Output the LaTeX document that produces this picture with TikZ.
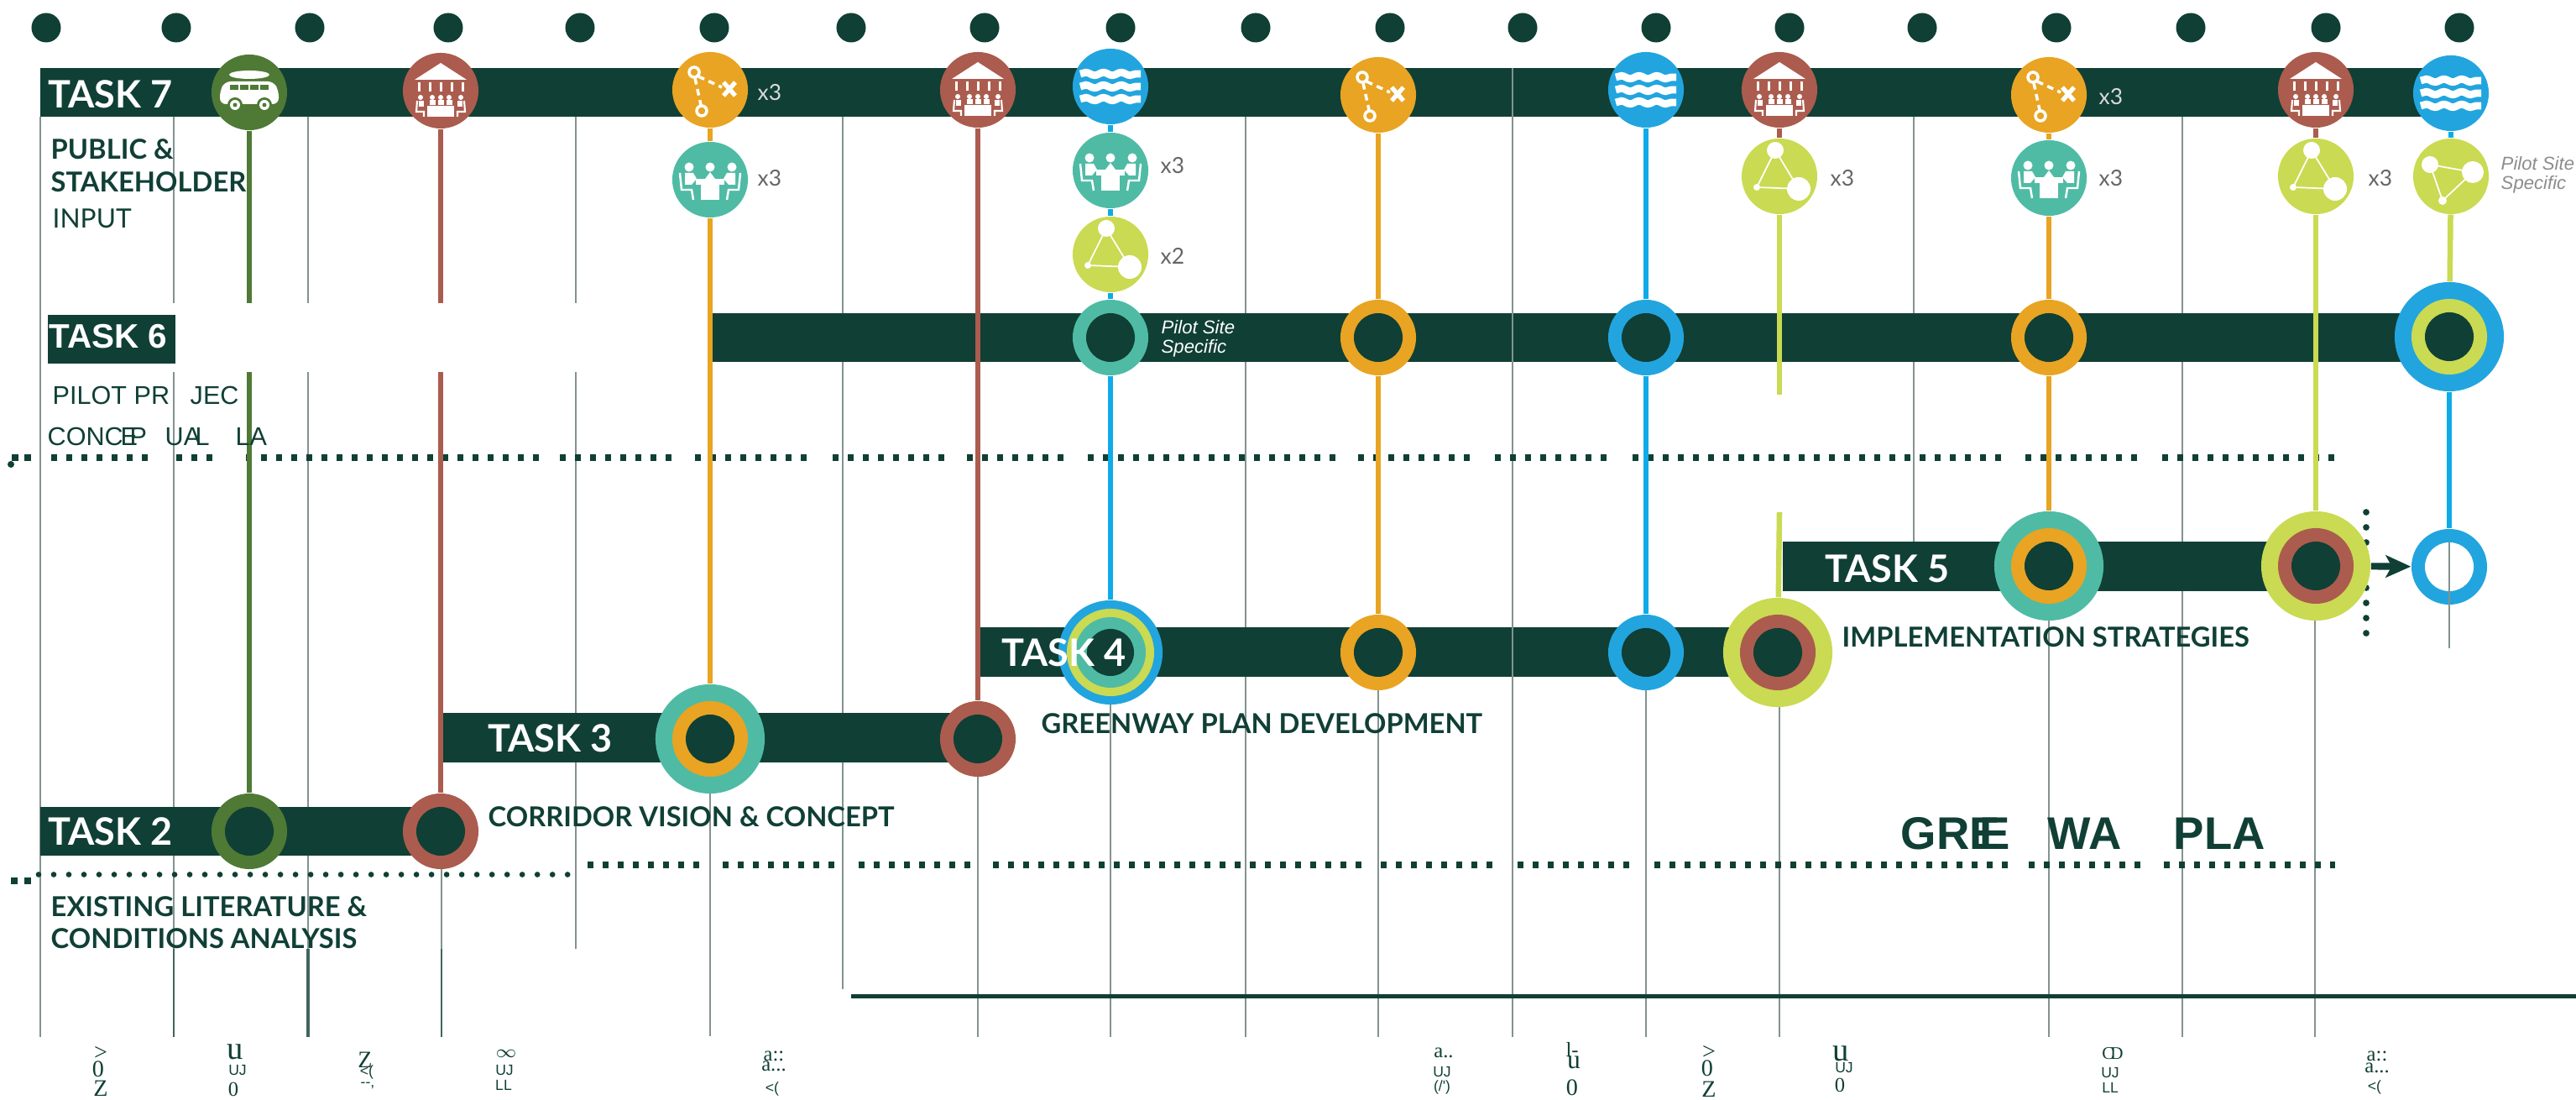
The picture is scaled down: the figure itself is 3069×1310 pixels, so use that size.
\documentclass[tikz,border=0pt]{standalone}
\usepackage{fontspec}
\usetikzlibrary{arrows.meta,decorations.pathmorphing}
\setmainfont{Lato}
\newfontfamily\arialfont{Liberation Sans}
\newfontfamily\timesfont{Liberation Serif}
\definecolor{dark}{HTML}{103F35}
\definecolor{trailgreen}{HTML}{4F7A35}
\definecolor{brick}{HTML}{AB5C4E}
\definecolor{amber}{HTML}{E8A422}
\definecolor{teal}{HTML}{4FBBA5}
\definecolor{sky}{HTML}{22A5DF}
\definecolor{skyline}{HTML}{0FABE8}
\definecolor{lime}{HTML}{CADA52}
\definecolor{gridgrey}{HTML}{83938F}
\tikzset{
  disc/.style={circle,inner sep=0pt,draw=none,fill=#1},
  rad/.style={minimum size=#1*0.02cm},
  stem/.style={draw=#1,line width=1.85pt},
  gridline/.style={draw=gridgrey,line width=0.45pt},
  bar/.style={fill=dark},
  squaredash/.style={draw=dark,line width=2pt,dash pattern=on 2pt off 3.12pt},
  dotline/.style={draw=dark,line width=#1,line cap=round,dash pattern=on 0pt off 5.12pt},
  tasklabel/.style={anchor=west,inner sep=0pt,text=white,font=\bfseries\fontsize{12.8}{15}\selectfont},
  heading/.style={anchor=west,inner sep=0pt,text=dark,font=\bfseries\fontsize{9.3}{11}\selectfont},
  plain/.style={anchor=west,inner sep=0pt,text=dark,font=\arialfont\fontsize{8.7}{10}\selectfont},
  bigplain/.style={anchor=west,inner sep=0pt,text=dark,font=\arialfont\bfseries\fontsize{15.5}{17}\selectfont},
  countlabel/.style={anchor=west,inner sep=0pt,text=#1,font=\fontsize{7.5}{9}\selectfont},
  sitenote/.style={anchor=west,inner sep=0pt,font=\arialfont\itshape\fontsize{6.3}{7}\selectfont},
  big glyph/.style={inner sep=0pt,text=dark,font=\timesfont\fontsize{#1}{#1}\selectfont},
  small glyph/.style={inner sep=0pt,text=dark,font=\arialfont\fontsize{5}{6}\selectfont},
  % icons, drawn round (0,0) in pixels
  vanicon/.pic={
    \fill[white] (0,-21) ellipse (24 and 5);
    \fill[white,rounded corners=2pt] (-35,14) -- (-35,-2) -- (-29,-13) -- (29,-13) -- (35,-2) -- (35,14) -- cycle;
    \foreach \x in {-18,-6,6,18} { \fill[trailgreen] (\x-5,-9) rectangle (\x+5,-3); }
    \foreach \x in {-17,18} {
      \fill[trailgreen] (\x,15) circle (9);
      \fill[white] (\x,15) circle (6);
      \fill[trailgreen] (\x,15) circle (2.5);
    }
  },
  hallicon/.pic={
    \fill[white] (0,-33) -- (31,-13) -- (-31,-13) -- cycle;
    \foreach \x in {-26,-13,0,13,26} { \fill[white] (\x-1.5,-10) rectangle (\x+1.5,1); }
    \foreach \x in {-10,0,10} {
      \fill[white] (\x,8) circle (3);
      \fill[white] (\x-3.5,11) rectangle (\x+3.5,17);
    }
    \fill[white] (-16,18) rectangle (16,31);
    \foreach \s in {-1,1} {
      \fill[white] (\s*24,8) circle (3);
      \draw[white,line width=0.6pt] (\s*28,12) -- (\s*29,25) -- (\s*20,25) -- (\s*20,31);
      \fill[white] (\s*26,12) rectangle (\s*20,19);
    }
  },
  waveicon/.pic={
    \foreach \y in {-15,0,15} {
      \draw[white,line width=2.5pt,decorate,decoration={snake,amplitude=0.5pt,segment length=6pt}] (-36,\y) -- (36,\y);
    }
  },
  routeicon/.pic={
    \draw[white,line width=1pt] (-19,-21) circle (6);
    \draw[white,line width=1pt] (-10,25) circle (6);
    \draw[white,line width=1pt,dash pattern=on 2.2pt off 1.6pt] (-14,-16) -- (14,-3);
    \draw[white,line width=1pt,dash pattern=on 2.2pt off 1.6pt] (-18,-14) -- (-11,18);
    \draw[white,line width=1.5pt] (16,-9) -- (30,7) (16,7) -- (30,-9);
  },
  meeticon/.pic={
    \foreach \x in {-25,0,26} { \fill[white] (\x,-15) circle (5.5); }
    \fill[white] (-6,-1) -- (0,-9) -- (6,-1) -- cycle;
    \fill[white] (-17,-1) rectangle (17,6);
    \fill[white] (-11,6) rectangle (11,24);
    \foreach \s in {-1,1} {
      \fill[white] (\s*30,-8) -- (\s*20,-8) -- (\s*16,-1) -- (\s*22,6) -- (\s*30,6) -- cycle;
      \draw[white,line width=0.7pt] (\s*36,-8) -- (\s*34,12) -- (\s*22,12) -- (\s*20,24);
    }
  },
  webicon/.pic={
    \draw[white,line width=0.5pt] (-5,-31) -- (23,15) -- (-27,13) -- cycle;
    \fill[white] (-5,-31) circle (10);
    \fill[white] (23,15) circle (14);
    \fill[white] (-27,13) circle (4);
  },
  webaltmark/.pic={
    \draw[white,line width=0.5pt] (-25,-14) -- (26,-5) -- (-10,29) -- cycle;
    \fill[white] (-25,-14) circle (10);
    \fill[white] (26,-5) circle (13);
    \fill[white] (-10,29) circle (5);
  }
}
\begin{document}
\begin{tikzpicture}[x=0.01cm,y=-0.01cm]
  \useasboundingbox (0,0) rectangle (3069,1310);
  % grid lines
  \foreach \x/\a/\b in {48/139/1235,207/139/1235,367/139/1235,526/990/1235,686/139/1130,846/880/1234,
      1004/139/1178,1165/880/1235,1323/777/1235,1484/139/1235,1642/777/1235,1961/777/1235,
      2120/777/1235,2280/139/645,2441/674/1235,2600/139/1235,2758/674/1235} {
    \draw[gridline] (\x,\a) -- (\x,\b);
  }
  \foreach \x/\w in {207/0.8pt,367/1.1pt,526/0.6pt} { \draw[draw=dark!80,line width=\w] (\x,1130) -- (\x,1235); }
  % task bars
  \foreach \xa/\ya/\xb/\yb in {48/81/2910/139,847/373/2918/431,48/961/526/1019,527/849/1165/908,1168/747/2118/806,2124/645/2759/704} {
    \fill[bar] (\xa,\ya) rectangle (\xb,\yb);
  }
  \draw[gridline] (1802,81) -- (1802,1235);
  % dotted rows
  \foreach \xa/\xb in {61/183,210/264,293/644,667/808,828/970,992/1133,1152/1271,1296/1593,1618/1757,1781/1918,1945/2385,2413/2548,2576/2781} {
    \draw[squaredash] (\xa,545) -- (\xb,545);
  }
  \foreach \xa/\xb in {700/839,861/1001,1023/1162,1183/1627,1645/1789,1808/1947,1971/2392,2417/2553,2578/2782} {
    \draw[squaredash] (\xa,1030) -- (\xb,1030);
  }
  \draw[dotline=1.9pt] (46,1041.5) -- (685,1041.5);
  \draw[dotline=2.2pt] (2819,610) -- (2819,772);
  \foreach \x in {14,29} { \fill[dark] (\x,541.5) rectangle +(8,8); }
  \foreach \x in {13,29} { \fill[dark] (\x,1045) rectangle +(8,8); }
  \fill[dark] (13,553) circle (4);
  \fill[dark] (1014,1184) rectangle (3069,1189);
  % coordinates the stems end at
  \coordinate (stubend) at (2120,470);
  \coordinate (stubstart) at (2120,610);
  \coordinate (endfoot) at (2918,772);
  % icon stops
  \foreach \name/\x/\y/\col in {van/297/110/trailgreen,hallA/525/108/brick,routeA/846/107/amber,
      meetA/846/214/teal,hallB/1165/107/brick,waveA/1323/103/sky,meetB/1323/203/teal,
      webA/1323/303/lime,routeB/1642/113/amber,waveB/1961/107/sky,hallC/2120/107/brick,
      webB/2120/210/lime,routeC/2441/113/amber,meetC/2441/212/teal,hallD/2759/107/brick,
      webC/2759/210/lime,waveC/2920/111/sky,webD/2920/210/lime} {
    \node[disc=\col,rad=45] (\name) at (\x,\y) {};
  }
  % plain stops
  \foreach \name/\x/\y/\col in {stopA/297/990/trailgreen,stopB/525/990/brick,stopC/1165/880/brick,pilotA/1323/402/teal,
      pilotB/1642/402/amber,pilotC/1961/402/sky,pilotD/2441/402/amber,planB/1642/777/amber,planC/1961/777/sky} {
    \node[disc=\col,rad=45] (\name) at (\x,\y) {};
    \node[disc=dark,rad=29] (\name hole) at (\x,\y) {};
  }
  % wide stops
  \foreach \name/\x/\y/\cola/\colb in {visionA/846/880/teal/amber,planD/2118/777/lime/brick,pilotE/2918/401/sky/lime,implA/2441/674/teal/amber,implB/2759/674/lime/brick} {
    \node[disc=\cola,rad=65] (\name) at (\x,\y) {};
    \node[disc=\colb,rad=45] (\name mid) at (\x,\y) {};
    \node[disc=dark,rad=29] (\name hole) at (\x,\y) {};
  }
  \node[disc=sky,rad=62] (planA) at (1323,777) {};
  \node[disc=lime,rad=52] (planA ring) at (1323,777) {};
  \node[disc=teal,rad=42] (planA mid) at (1323,777) {};
  \node[disc=dark,rad=28] (planA hole) at (1323,777) {};
  \node[disc=sky,rad=45] (endring) at (2918,675) {};
  \node[disc=white,rad=29] (endhole) at (2918,675) {};
  % stems
  \foreach \a/\b/\col in {van/stopA/trailgreen,hallA/stopB/brick,routeA/meetA/amber,meetA/visionA/amber,hallB/stopC/brick,
      waveA/meetB/skyline,meetB/webA/skyline,webA/pilotA/skyline,pilotA/planA/skyline,routeB/pilotB/amber,pilotB/planB/amber,
      waveB/pilotC/skyline,pilotC/planC/skyline,hallC/webB/brick,webB/stubend/lime,stubstart/planD/lime,routeC/meetC/amber,
      meetC/pilotD/amber,pilotD/implA/amber,hallD/webC/brick,webC/implB/lime,waveC/webD/skyline,webD/pilotE/lime,pilotE/endring/skyline} {
    \draw[stem=\col] (\a) -- (\b);
  }
  \fill[white] (55,361) rectangle (842,443);
  \draw[gridline] (endhole.north) -- (endfoot);
  \draw[dark,line width=2.3pt,-{Stealth[length=8.5pt,width=7.5pt,inset=2pt]}] (implB) -- (endring);
  % icons on the stops
  \foreach \name/\icon in {van/vanicon,hallA/hallicon,routeA/routeicon,meetA/meeticon,hallB/hallicon,waveA/waveicon,meetB/meeticon,
      webA/webicon,routeB/routeicon,waveB/waveicon,hallC/hallicon,webB/webicon,routeC/routeicon,meetC/meeticon,hallD/hallicon,
      webC/webicon,waveC/waveicon,webD/webaltmark} {
    \pic at (\name) {\icon};
  }
  % top dots
  \foreach \x [count=\i] in {55,210,369,534,691,851,1014,1173,1335,1496,1656,1814,1973,2132,2290,2450,2610,2771,2930} {
    \node[disc=dark,rad=17.5] (dot\i) at (\x,33) {};
  }
  % task names
  \node[tasklabel] (taskseven) at (57,112) {TASK 7};
  \node[tasklabel] (tasktwo) at (57,990) {TASK 2};
  \node[tasklabel] (taskthree) at (581,879) {TASK 3};
  \node[tasklabel] (taskfour) at (1193,777) {TASK 4};
  \node[tasklabel] (taskfive) at (2174,677) {TASK 5};
  \node[fill=dark,anchor=north west,inner sep=0pt,minimum width=1.52cm,minimum height=0.58cm] (sixbox) at (56,374) {};
  \node[anchor=west,inner sep=0pt,text=white,font=\arialfont\bfseries\fontsize{11.5}{13}\selectfont] (tasksix) at (58,401) {TASK 6};
  % headings
  \node[heading] (publicA) at (60,178) {PUBLIC \&};
  \node[heading] (publicB) at (60,217) {STAKEHOLDER};
  \node[anchor=west,inner sep=0pt,text=dark,font=\fontsize{9}{10}\selectfont] (publicC) at (62,260) {INPUT};
  \node[heading] (existA) at (60,1080) {EXISTING LITERATURE \&};
  \node[heading] (existB) at (60,1118) {CONDITIONS ANALYSIS};
  \node[heading] (vision) at (581,973) {CORRIDOR VISION \& CONCEPT};
  \node[heading] (plan) at (1240,862) {GREENWAY PLAN DEVELOPMENT};
  \node[heading] (impl) at (2194,759) {IMPLEMENTATION STRATEGIES};
  % broken headings
  \foreach \name/\x/\y/\txt in {pa/62/471/PILOT PR,pb/226/471/JEC,pc/56/520/CONC,pd/143/520/E,ph/154/520/P,pe/196/520/UA,pf/232/520/L,pg/280/520/LA} {
    \node[plain] (\name) at (\x,\y) {\txt};
  }
  \foreach \name/\x/\txt in {ga/2264/GRE,gb/2358/E,gc/2439/WA,gd/2589/PLA} {
    \node[bigplain] (\name) at (\x,993) {\txt};
  }
  % counts
  \foreach \name/\x/\y/\col/\txt in {ca/902/110/black!15/x3,cb/902/212/black!60/x3,cc/1382/197/black!60/x3,cd/1382/305/black!60/x2,
      ce/2180/212/black!60/x3,cf/2500/115/black!15/x3,cg/2500/212/black!60/x3,ch/2821/212/black!60/x3} {
    \node[countlabel=\col] (\name) at (\x,\y) {\txt};
  }
  \node[sitenote,text=white] (siteA) at (1383,390) {Pilot Site};
  \node[sitenote,text=white] (siteB) at (1383,415) {Specific};
  \node[sitenote,text=black!45] (siteC) at (2979,195) {Pilot Site};
  \node[sitenote,text=black!45] (siteD) at (2979,220) {Specific};
  % letters along the foot
  \foreach \name/\x/\y/\s/\txt in {la/120/1254/8/>,lb/117/1273/8/0,lc/120/1296/8/Z,ld/280/1253/11/u,le/278/1297/7/0,lf/435/1262/8/Z,
      lg/603/1255/6.5/{$\infty$},lh/922/1258/7/{a::},li/922/1270/7/{a{.}{.}{.}},lj/1720/1254/7/{a{.}{.}},lk/1873/1250/7/{l-},ll/1875/1265/9/u,lm/1873/1295/8/0,
      ln/2036/1253/8/>,lo/2034/1272/8/0,lp/2036/1297/8/Z,lq/2193/1255/11/u,lr/2192/1292/7/0,ls/2517/1255/6/{C\hspace{-0.2em}D},lt/2832/1258/7/{a::},lu/2832/1272/7/{a{.}{.}{.}}} {
    \node[big glyph=\s] (\name) at (\x,\y) {\txt};
  }
  \foreach \name/\x/\y/\txt in {sa/283/1275/UJ,sb/437/1277/{<(},sc/438/1293/{--,},sd/601/1275/UJ,se/600/1292/LL,sf/920/1297/{<(},
      sg/1718/1277/UJ,sh/1718/1295/{(/')},si/2197/1272/UJ,sj/2514/1278/UJ,sk/2514/1295/LL,sl/2829/1295/{<(}} {
    \node[small glyph] (\name) at (\x,\y) {\txt};
  }
\end{tikzpicture}
\end{document}
